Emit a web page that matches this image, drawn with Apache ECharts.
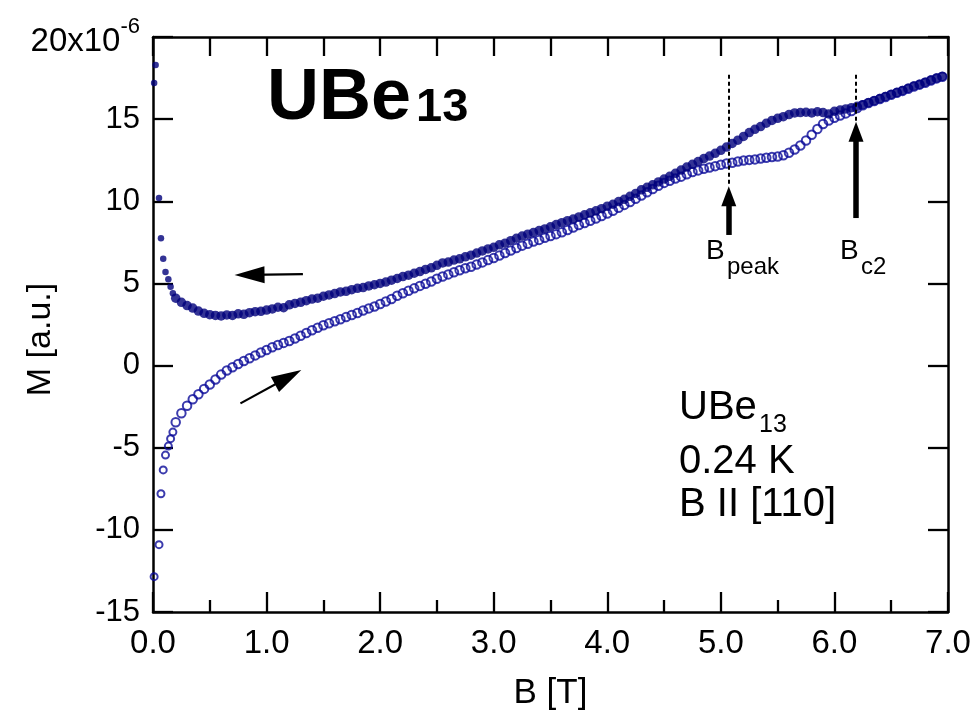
<!DOCTYPE html>
<html>
<head>
<meta charset="utf-8">
<script src="https://cdn.jsdelivr.net/npm/echarts@6/dist/echarts.min.js"></script>
<style>
  html, body { margin: 0; padding: 0; background: #fff; }
  #chart { width: 977px; height: 713px; }
</style>
</head>
<body>
<div id="chart"></div>
<script>
// Magnetization of UBe13 at 0.24 K, field along [110]
// Down sweep (filled dots) and up sweep (open circles)

const lowFieldDown = [0.01, 0.023, 0.053, 0.07, 0.09, 0.11, 0.135, 0.155, 0.175];
const lowMomentDown = [17.2, 18.3, 10.2, 7.75, 6.5, 5.7, 5.25, 4.8, 4.4];

const lowFieldUp = [0.01, 0.053, 0.07, 0.09, 0.11, 0.135, 0.155, 0.175];
const lowMomentUp = [-12.85, -10.9, -7.8, -6.35, -5.45, -4.9, -4.45, -4.05];

// field steps of the sweep, 0.20 ... 6.95 T
const sweepField = [
  0.20, 0.25, 0.30, 0.35, 0.40, 0.45, 0.50, 0.55, 0.60, 0.65, 0.70, 0.75, 0.80, 0.85, 0.90, 0.95,
  1.00, 1.05, 1.10, 1.15, 1.20, 1.25, 1.30, 1.35, 1.40, 1.45, 1.50, 1.55, 1.60, 1.65, 1.70, 1.75, 1.80, 1.85, 1.90, 1.95,
  2.00, 2.05, 2.10, 2.15, 2.20, 2.25, 2.30, 2.35, 2.40, 2.45, 2.50, 2.55, 2.60, 2.65, 2.70, 2.75, 2.80, 2.85, 2.90, 2.95,
  3.00, 3.05, 3.10, 3.15, 3.20, 3.25, 3.30, 3.35, 3.40, 3.45, 3.50, 3.55, 3.60, 3.65, 3.70, 3.75, 3.80, 3.85, 3.90, 3.95,
  4.00, 4.05, 4.10, 4.15, 4.20, 4.25, 4.30, 4.35, 4.40, 4.45, 4.50, 4.55, 4.60, 4.65, 4.70, 4.75, 4.80, 4.85, 4.90, 4.95,
  5.00, 5.05, 5.10, 5.15, 5.20, 5.25, 5.30, 5.35, 5.40, 5.45, 5.50, 5.55, 5.60, 5.65, 5.70, 5.75, 5.80, 5.85, 5.90, 5.95,
  6.00, 6.05, 6.10, 6.15, 6.20, 6.25, 6.30, 6.35, 6.40, 6.45, 6.50, 6.55, 6.60, 6.65, 6.70, 6.75, 6.80, 6.85, 6.90, 6.95
];

const momentDown = [
  4.10, 3.85, 3.65, 3.50, 3.32, 3.18, 3.10, 3.05, 3.02, 3.08, 3.05, 3.15, 3.12, 3.22, 3.28, 3.30,
  3.38, 3.45, 3.55, 3.52, 3.70, 3.78, 3.85, 3.95, 4.05, 4.10, 4.22, 4.30, 4.38, 4.48, 4.52, 4.62, 4.70, 4.75, 4.85, 4.92,
  5.00, 5.08, 5.20, 5.30, 5.42, 5.50, 5.62, 5.72, 5.85, 5.95, 6.10, 6.25, 6.30, 6.42, 6.50, 6.62, 6.72, 6.85, 6.98, 7.10,
  7.20, 7.35, 7.45, 7.60, 7.75, 7.88, 8.00, 8.10, 8.22, 8.32, 8.45, 8.58, 8.70, 8.82, 8.92, 9.05, 9.18, 9.30, 9.42, 9.55,
  9.70, 9.82, 9.98, 10.12, 10.30, 10.48, 10.70, 10.85, 11.00, 11.18, 11.35, 11.52, 11.70, 11.90, 12.08, 12.25, 12.42, 12.60, 12.75, 12.92,
  13.10, 13.30, 13.52, 13.72, 13.95, 14.18, 14.38, 14.55, 14.75, 14.92, 15.05, 15.15, 15.28, 15.38, 15.40, 15.42, 15.38, 15.45, 15.40, 15.32,
  15.48, 15.55, 15.62, 15.70, 15.78, 15.88, 16.00, 16.12, 16.25, 16.38, 16.50, 16.62, 16.75, 16.88, 17.02, 17.12, 17.25, 17.38, 17.50, 17.60
];

const momentUp = [
  -3.45, -2.90, -2.45, -2.05, -1.75, -1.42, -1.15, -0.85, -0.55, -0.30, -0.10, 0.10, 0.28, 0.45, 0.62, 0.80,
  0.95, 1.12, 1.25, 1.38, 1.50, 1.65, 1.82, 1.98, 2.15, 2.30, 2.45, 2.58, 2.70, 2.82, 2.95, 3.08, 3.20, 3.35, 3.48, 3.60,
  3.75, 3.90, 4.05, 4.25, 4.40, 4.55, 4.70, 4.85, 4.98, 5.12, 5.28, 5.42, 5.55, 5.68, 5.80, 5.92, 6.02, 6.15, 6.28, 6.42,
  6.55, 6.70, 6.85, 7.00, 7.15, 7.30, 7.42, 7.55, 7.65, 7.78, 7.88, 8.00, 8.12, 8.25, 8.40, 8.55, 8.68, 8.82, 8.95, 9.10,
  9.25, 9.42, 9.60, 9.78, 9.95, 10.15, 10.35, 10.55, 10.75, 10.95, 11.12, 11.25, 11.38, 11.50, 11.65, 11.78, 11.88, 11.98, 12.06, 12.14,
  12.22, 12.30, 12.35, 12.42, 12.48, 12.52, 12.55, 12.60, 12.65, 12.70, 12.72, 12.80, 12.95, 13.15, 13.40, 13.70, 14.05, 14.40, 14.70, 14.92,
  15.08, 15.22, 15.35, 15.50, 15.68, 15.85, 15.98, 16.10, 16.22, 16.35, 16.48, 16.60, 16.72, 16.85, 16.98, 17.10, 17.22, 17.35, 17.48, 17.58
];

// characteristic fields
const bPeak = 5.07;
const bC2 = 6.19;

// axis ranges
const xRange = [0, 7];
const yRange = [-15, 20];

const pairs = (xs, ys) => xs.map((x, i) => [x, ys[i]]);
const downData = pairs(lowFieldDown, lowMomentDown).concat(pairs(sweepField, momentDown));
const upData = pairs(lowFieldUp, lowMomentUp).concat(pairs(sweepField, momentUp));

const SANS = 'Liberation Sans, Arial, sans-serif';
const INK = '#000';
const NAVY = '#00007a';

// isolated points near zero field are drawn a bit smaller than the dense sweep
const sweepStart = sweepField[0];

const chart = echarts.init(document.getElementById('chart'), null, { renderer: 'canvas' });

const frameLine = { show: true, onZero: false, lineStyle: { color: INK, width: 2.5 } };

chart.setOption({
  animation: false,
  backgroundColor: '#fff',
  grid: { left: 153, right: 29, top: 37, bottom: 101, containLabel: false, outerBoundsMode: 'none' },
  xAxis: [
    {
      type: 'value', min: xRange[0], max: xRange[1], interval: 1,
      position: 'bottom',
      axisLine: frameLine,
      axisTick: { show: true, inside: true, length: 20, lineStyle: { color: INK, width: 2.3 } },
      minorTick: { show: true, splitNumber: 2, length: 12, lineStyle: { color: INK, width: 2.3 } },
      splitLine: { show: false },
      axisLabel: {
        margin: 15, color: INK, fontSize: 33, fontFamily: SANS,
        formatter: v => v.toFixed(1)
      },
      name: 'B [T]', nameLocation: 'middle', nameGap: 64, nameMoveOverlap: false,
      nameTextStyle: { color: INK, fontSize: 35, fontFamily: SANS }
    },
    {
      type: 'value', min: xRange[0], max: xRange[1], interval: 0.5,
      position: 'top',
      axisLine: frameLine,
      axisTick: { show: true, inside: true, length: 19, lineStyle: { color: INK, width: 2.3 } },
      axisLabel: { show: false },
      splitLine: { show: false }
    }
  ],
  yAxis: [
    {
      type: 'value', min: yRange[0], max: yRange[1], interval: 5,
      position: 'left',
      axisLine: frameLine,
      axisTick: { show: true, inside: true, length: 20, lineStyle: { color: INK, width: 2.3 } },
      splitLine: { show: false },
      axisLabel: {
        margin: 13, color: INK, fontSize: 31, fontFamily: SANS,
        formatter: v => v === 20 ? '{n|20x10}{e|-6}' : String(v),
        rich: {
          n: { fontSize: 33, fontFamily: SANS, color: INK, verticalAlign: 'bottom', padding: [8, 0, 0, 0] },
          e: { fontSize: 22, fontFamily: SANS, color: INK, verticalAlign: 'top', padding: [0, 0, 20, 0] }
        }
      },
      name: 'M [a.u.]', nameLocation: 'middle', nameGap: 95, nameRotate: 90, nameMoveOverlap: false,
      nameTextStyle: { color: INK, fontSize: 34, fontFamily: SANS, padding: [0, 30, 0, 0] }
    },
    {
      type: 'value', min: yRange[0], max: yRange[1], interval: 5,
      position: 'right',
      axisLine: frameLine,
      axisTick: { show: true, inside: true, length: 20, lineStyle: { color: INK, width: 2.3 } },
      axisLabel: { show: false },
      splitLine: { show: false }
    }
  ],
  series: [
    {
      name: 'up sweep', type: 'scatter', xAxisIndex: 0, yAxisIndex: 0,
      data: upData,
      symbol: 'circle',
      symbolSize: v => (v[0] < sweepStart ? 7 : 8.5),
      itemStyle: { color: 'rgba(255,255,255,0)', borderColor: '#0a0a98', borderWidth: 2 },
      z: 2
    },
    {
      name: 'down sweep', type: 'scatter', xAxisIndex: 0, yAxisIndex: 0,
      data: downData,
      symbol: 'circle',
      symbolSize: v => (v[0] < sweepStart ? 6.5 : 9.5),
      itemStyle: { color: NAVY },
      z: 3,
      markLine: {
        silent: true,
        symbol: ['none', 'none'],
        label: { show: false },
        animation: false,
        data: [
          // dashed guides at B_peak and B_c2
          [{ coord: [bPeak, 17.7], lineStyle: { type: [4, 3], width: 2, color: INK } }, { coord: [bPeak, 10.9] }],
          [{ coord: [bC2, 17.7], lineStyle: { type: [4, 3], width: 2, color: INK } }, { coord: [bC2, 14.85] }],
          // thick arrows pointing to the features
          [{ coord: [bPeak, 7.95], symbol: 'none', lineStyle: { type: 'solid', width: 5.5, color: INK } },
           { coord: [bPeak, 10.3], symbol: 'triangle', symbolSize: [15, 20] }],
          [{ coord: [bC2, 8.98], symbol: 'none', lineStyle: { type: 'solid', width: 5.5, color: INK } },
           { coord: [bC2, 14.24], symbol: 'triangle', symbolSize: [15, 20] }],
          // sweep direction arrows
          [{ coord: [1.32, 5.57], symbol: 'none', lineStyle: { type: 'solid', width: 2.2, color: INK } },
           { coord: [0.85, 5.52], symbol: 'triangle', symbolSize: [17, 30] }],
          [{ coord: [0.77, -2.3], symbol: 'none', lineStyle: { type: 'solid', width: 2.2, color: INK } },
           { coord: [1.19, -0.71], symbol: 'triangle', symbolSize: [17, 30] }]
        ]
      }
    }
  ],
  graphic: [
    // large compound label
    { type: 'text', x: 267, y: 99, style: { text: 'UBe', fontSize: 72, fontWeight: 'bold', fontFamily: SANS, fill: INK, align: 'left', verticalAlign: 'middle' } },
    { type: 'text', x: 416, y: 108, style: { text: '13', fontSize: 47, fontWeight: 'bold', fontFamily: SANS, fill: INK, align: 'left', verticalAlign: 'middle' } },
    // feature labels
    { type: 'text', x: 706, y: 251, style: { text: 'B', fontSize: 28, fontFamily: SANS, fill: INK, align: 'left', verticalAlign: 'middle' } },
    { type: 'text', x: 727, y: 267, style: { text: 'peak', fontSize: 24, fontFamily: SANS, fill: INK, align: 'left', verticalAlign: 'middle' } },
    { type: 'text', x: 840, y: 251, style: { text: 'B', fontSize: 28, fontFamily: SANS, fill: INK, align: 'left', verticalAlign: 'middle' } },
    { type: 'text', x: 861, y: 267, style: { text: 'c2', fontSize: 24, fontFamily: SANS, fill: INK, align: 'left', verticalAlign: 'middle' } },
    // sample description
    { type: 'text', x: 679, y: 408, style: { text: 'UBe', fontSize: 40, fontFamily: SANS, fill: INK, align: 'left', verticalAlign: 'middle' } },
    { type: 'text', x: 759, y: 425, style: { text: '13', fontSize: 25, fontFamily: SANS, fill: INK, align: 'left', verticalAlign: 'middle' } },
    { type: 'text', x: 679, y: 462, style: { text: '0.24 K', fontSize: 40, fontFamily: SANS, fill: INK, align: 'left', verticalAlign: 'middle' } },
    { type: 'text', x: 679, y: 505, style: { text: 'B II [110]', fontSize: 40, fontFamily: SANS, fill: INK, align: 'left', verticalAlign: 'middle' } }
  ]
});
</script>
</body>
</html>
